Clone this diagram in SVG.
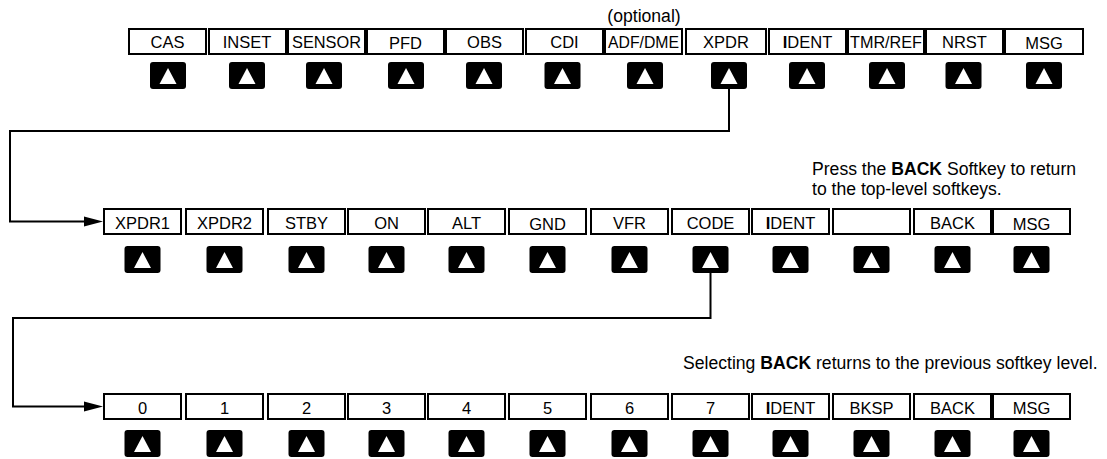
<svg xmlns="http://www.w3.org/2000/svg" width="1107" height="459" viewBox="0 0 1107 459">
<defs>
<style>
.key{fill:#fff;stroke:#000;stroke-width:2}
.lbl{font-family:"Liberation Sans",Arial,sans-serif;font-size:16.5px;fill:#000;text-anchor:middle}
.note{font-family:"Liberation Sans",Arial,sans-serif;font-size:17.6px;fill:#000}
.btn{fill:#000}
.tri{fill:#fff}
.conn{fill:none;stroke:#000;stroke-width:2}
</style>
<g id="b">
<rect class="btn" x="-18" y="0" width="36" height="27" rx="3"/>
<path class="tri" d="M0,6 L8.5,22 L-8.5,22 Z"/>
</g>
</defs>
<rect width="1107" height="459" fill="#fff"/>

<g id="connectors">
<path class="conn" d="M729,89 V131 H10 V221.5 H84"/>
<path d="M84,216.5 L103,221.5 L84,226.5 Z" fill="#000"/>
<path class="conn" d="M710.5,272 V318 H13 V406.5 H84"/>
<path d="M84,401.5 L103,406.5 L84,411.5 Z" fill="#000"/>
</g>

<text class="note" x="644" y="22" text-anchor="middle">(optional)</text>
<text class="note" x="812" y="175" font-size="17.3">Press the <tspan font-weight="bold">BACK</tspan> Softkey to return</text>
<text class="note" x="812" y="195" font-size="17.3">to the top-level softkeys.</text>
<text class="note" x="683" y="369">Selecting <tspan font-weight="bold">BACK</tspan> returns to the previous softkey level.</text>

<!-- Top row -->
<g id="t-cas"><rect class="key" x="129" y="29" width="77" height="25"/><text class="lbl" x="167.5" y="48" font-size="17">CAS</text><use href="#b" x="168" y="62"/></g>
<g id="t-inset"><rect class="key" x="209" y="29" width="77" height="25"/><text class="lbl" x="247" y="48">INSET</text><use href="#b" x="247" y="62"/></g>
<g id="t-sensor"><rect class="key" x="288" y="29" width="77" height="25"/><text class="lbl" x="326.5" y="48" font-size="17" textLength="69" lengthAdjust="spacingAndGlyphs">SENSOR</text><use href="#b" x="324" y="62"/></g>
<g id="t-pfd"><rect class="key" x="367" y="29" width="77" height="25"/><text class="lbl" x="405.5" y="49" font-size="15.5">PFD</text><use href="#b" x="406" y="62"/></g>
<g id="t-obs"><rect class="key" x="446" y="29" width="77" height="25"/><text class="lbl" x="484.5" y="48">OBS</text><use href="#b" x="484" y="62"/></g>
<g id="t-cdi"><rect class="key" x="526" y="29" width="77" height="25"/><text class="lbl" x="564.5" y="48">CDI</text><use href="#b" x="562.5" y="62"/></g>
<g id="t-adf"><rect class="key" x="605" y="29" width="77" height="25"/><text class="lbl" x="643.5" y="48" font-size="17" textLength="71" lengthAdjust="spacingAndGlyphs">ADF/DME</text><use href="#b" x="645" y="62"/></g>
<g id="t-xpdr"><rect class="key" x="686" y="29" width="80" height="25"/><text class="lbl" x="726" y="48">XPDR</text><use href="#b" x="729" y="62"/></g>
<g id="t-ident"><rect class="key" x="769" y="29" width="77" height="25"/><text class="lbl" x="807.5" y="48"><tspan font-weight="bold">I</tspan>DENT</text><use href="#b" x="807" y="62"/></g>
<g id="t-tmr"><rect class="key" x="848" y="29" width="76" height="25"/><text class="lbl" x="886" y="48" font-size="17" textLength="72" lengthAdjust="spacingAndGlyphs">TMR/REF</text><use href="#b" x="887" y="62"/></g>
<g id="t-nrst"><rect class="key" x="926" y="29" width="77" height="25"/><text class="lbl" x="964.5" y="48">NRST</text><use href="#b" x="963.5" y="62"/></g>
<g id="t-msg"><rect class="key" x="1005" y="29" width="78" height="25"/><text class="lbl" x="1044" y="48.5">MSG</text><use href="#b" x="1044" y="62"/></g>

<!-- Middle row -->
<g id="m-xpdr1"><rect class="key" x="104" y="209" width="77" height="25"/><text class="lbl" x="142.5" y="229">XPDR1</text><use href="#b" x="142.5" y="246"/></g>
<g id="m-xpdr2"><rect class="key" x="186" y="209" width="77" height="25"/><text class="lbl" x="224.5" y="229">XPDR2</text><use href="#b" x="224.5" y="246"/></g>
<g id="m-stby"><rect class="key" x="268" y="209" width="77" height="25"/><text class="lbl" x="306.5" y="229">STBY</text><use href="#b" x="306.5" y="246"/></g>
<g id="m-on"><rect class="key" x="348" y="209" width="77" height="25"/><text class="lbl" x="386.5" y="229">ON</text><use href="#b" x="386.5" y="246"/></g>
<g id="m-alt"><rect class="key" x="428" y="209" width="77" height="25"/><text class="lbl" x="466.5" y="229">ALT</text><use href="#b" x="466.5" y="246"/></g>
<g id="m-gnd"><rect class="key" x="509" y="209" width="77" height="25"/><text class="lbl" x="547.5" y="230">GND</text><use href="#b" x="547.5" y="246"/></g>
<g id="m-vfr"><rect class="key" x="591" y="209" width="77" height="25"/><text class="lbl" x="629.5" y="229">VFR</text><use href="#b" x="629.5" y="246"/></g>
<g id="m-code"><rect class="key" x="672" y="209" width="77" height="25"/><text class="lbl" x="710.5" y="229">CODE</text><use href="#b" x="710.5" y="246"/></g>
<g id="m-ident"><rect class="key" x="752" y="209" width="77" height="25"/><text class="lbl" x="790.5" y="229"><tspan font-weight="bold">I</tspan>DENT</text><use href="#b" x="790.5" y="246"/></g>
<g id="m-blank"><rect class="key" x="833" y="209" width="77" height="25"/><use href="#b" x="871.5" y="246"/></g>
<g id="m-back"><rect class="key" x="914" y="209" width="77" height="25"/><text class="lbl" x="952.5" y="229">BACK</text><use href="#b" x="952.5" y="246"/></g>
<g id="m-msg"><rect class="key" x="993" y="209" width="77" height="25"/><text class="lbl" x="1031.5" y="230">MSG</text><use href="#b" x="1031.5" y="246"/></g>

<!-- Bottom row -->
<g id="b-0"><rect class="key" x="104" y="394" width="77" height="25"/><text class="lbl" x="142.5" y="413.5" font-size="15.5">0</text><use href="#b" x="142.5" y="430"/></g>
<g id="b-1"><rect class="key" x="186" y="394" width="77" height="25"/><text class="lbl" x="224.5" y="413.5" font-size="15.5">1</text><use href="#b" x="224.5" y="430"/></g>
<g id="b-2"><rect class="key" x="268" y="394" width="77" height="25"/><text class="lbl" x="306.5" y="413.5" font-size="15.5">2</text><use href="#b" x="306.5" y="430"/></g>
<g id="b-3"><rect class="key" x="348" y="394" width="77" height="25"/><text class="lbl" x="386.5" y="413.5" font-size="15.5">3</text><use href="#b" x="386.5" y="430"/></g>
<g id="b-4"><rect class="key" x="428" y="394" width="77" height="25"/><text class="lbl" x="466.5" y="413.5" font-size="15.5">4</text><use href="#b" x="466.5" y="430"/></g>
<g id="b-5"><rect class="key" x="509" y="394" width="77" height="25"/><text class="lbl" x="547.5" y="413.5" font-size="15.5">5</text><use href="#b" x="547.5" y="430"/></g>
<g id="b-6"><rect class="key" x="591" y="394" width="77" height="25"/><text class="lbl" x="629.5" y="413.5" font-size="15.5">6</text><use href="#b" x="629.5" y="430"/></g>
<g id="b-7"><rect class="key" x="672" y="394" width="77" height="25"/><text class="lbl" x="710.5" y="413.5" font-size="15.5">7</text><use href="#b" x="710.5" y="430"/></g>
<g id="b-ident"><rect class="key" x="752" y="394" width="77" height="25"/><text class="lbl" x="790.5" y="414"><tspan font-weight="bold">I</tspan>DENT</text><use href="#b" x="790.5" y="430"/></g>
<g id="b-bksp"><rect class="key" x="833" y="394" width="77" height="25"/><text class="lbl" x="871.5" y="414">BKSP</text><use href="#b" x="871.5" y="430"/></g>
<g id="b-back"><rect class="key" x="914" y="394" width="77" height="25"/><text class="lbl" x="952.5" y="414">BACK</text><use href="#b" x="952.5" y="430"/></g>
<g id="b-msg"><rect class="key" x="993" y="394" width="77" height="25"/><text class="lbl" x="1031.5" y="414">MSG</text><use href="#b" x="1031.5" y="430"/></g>
</svg>
